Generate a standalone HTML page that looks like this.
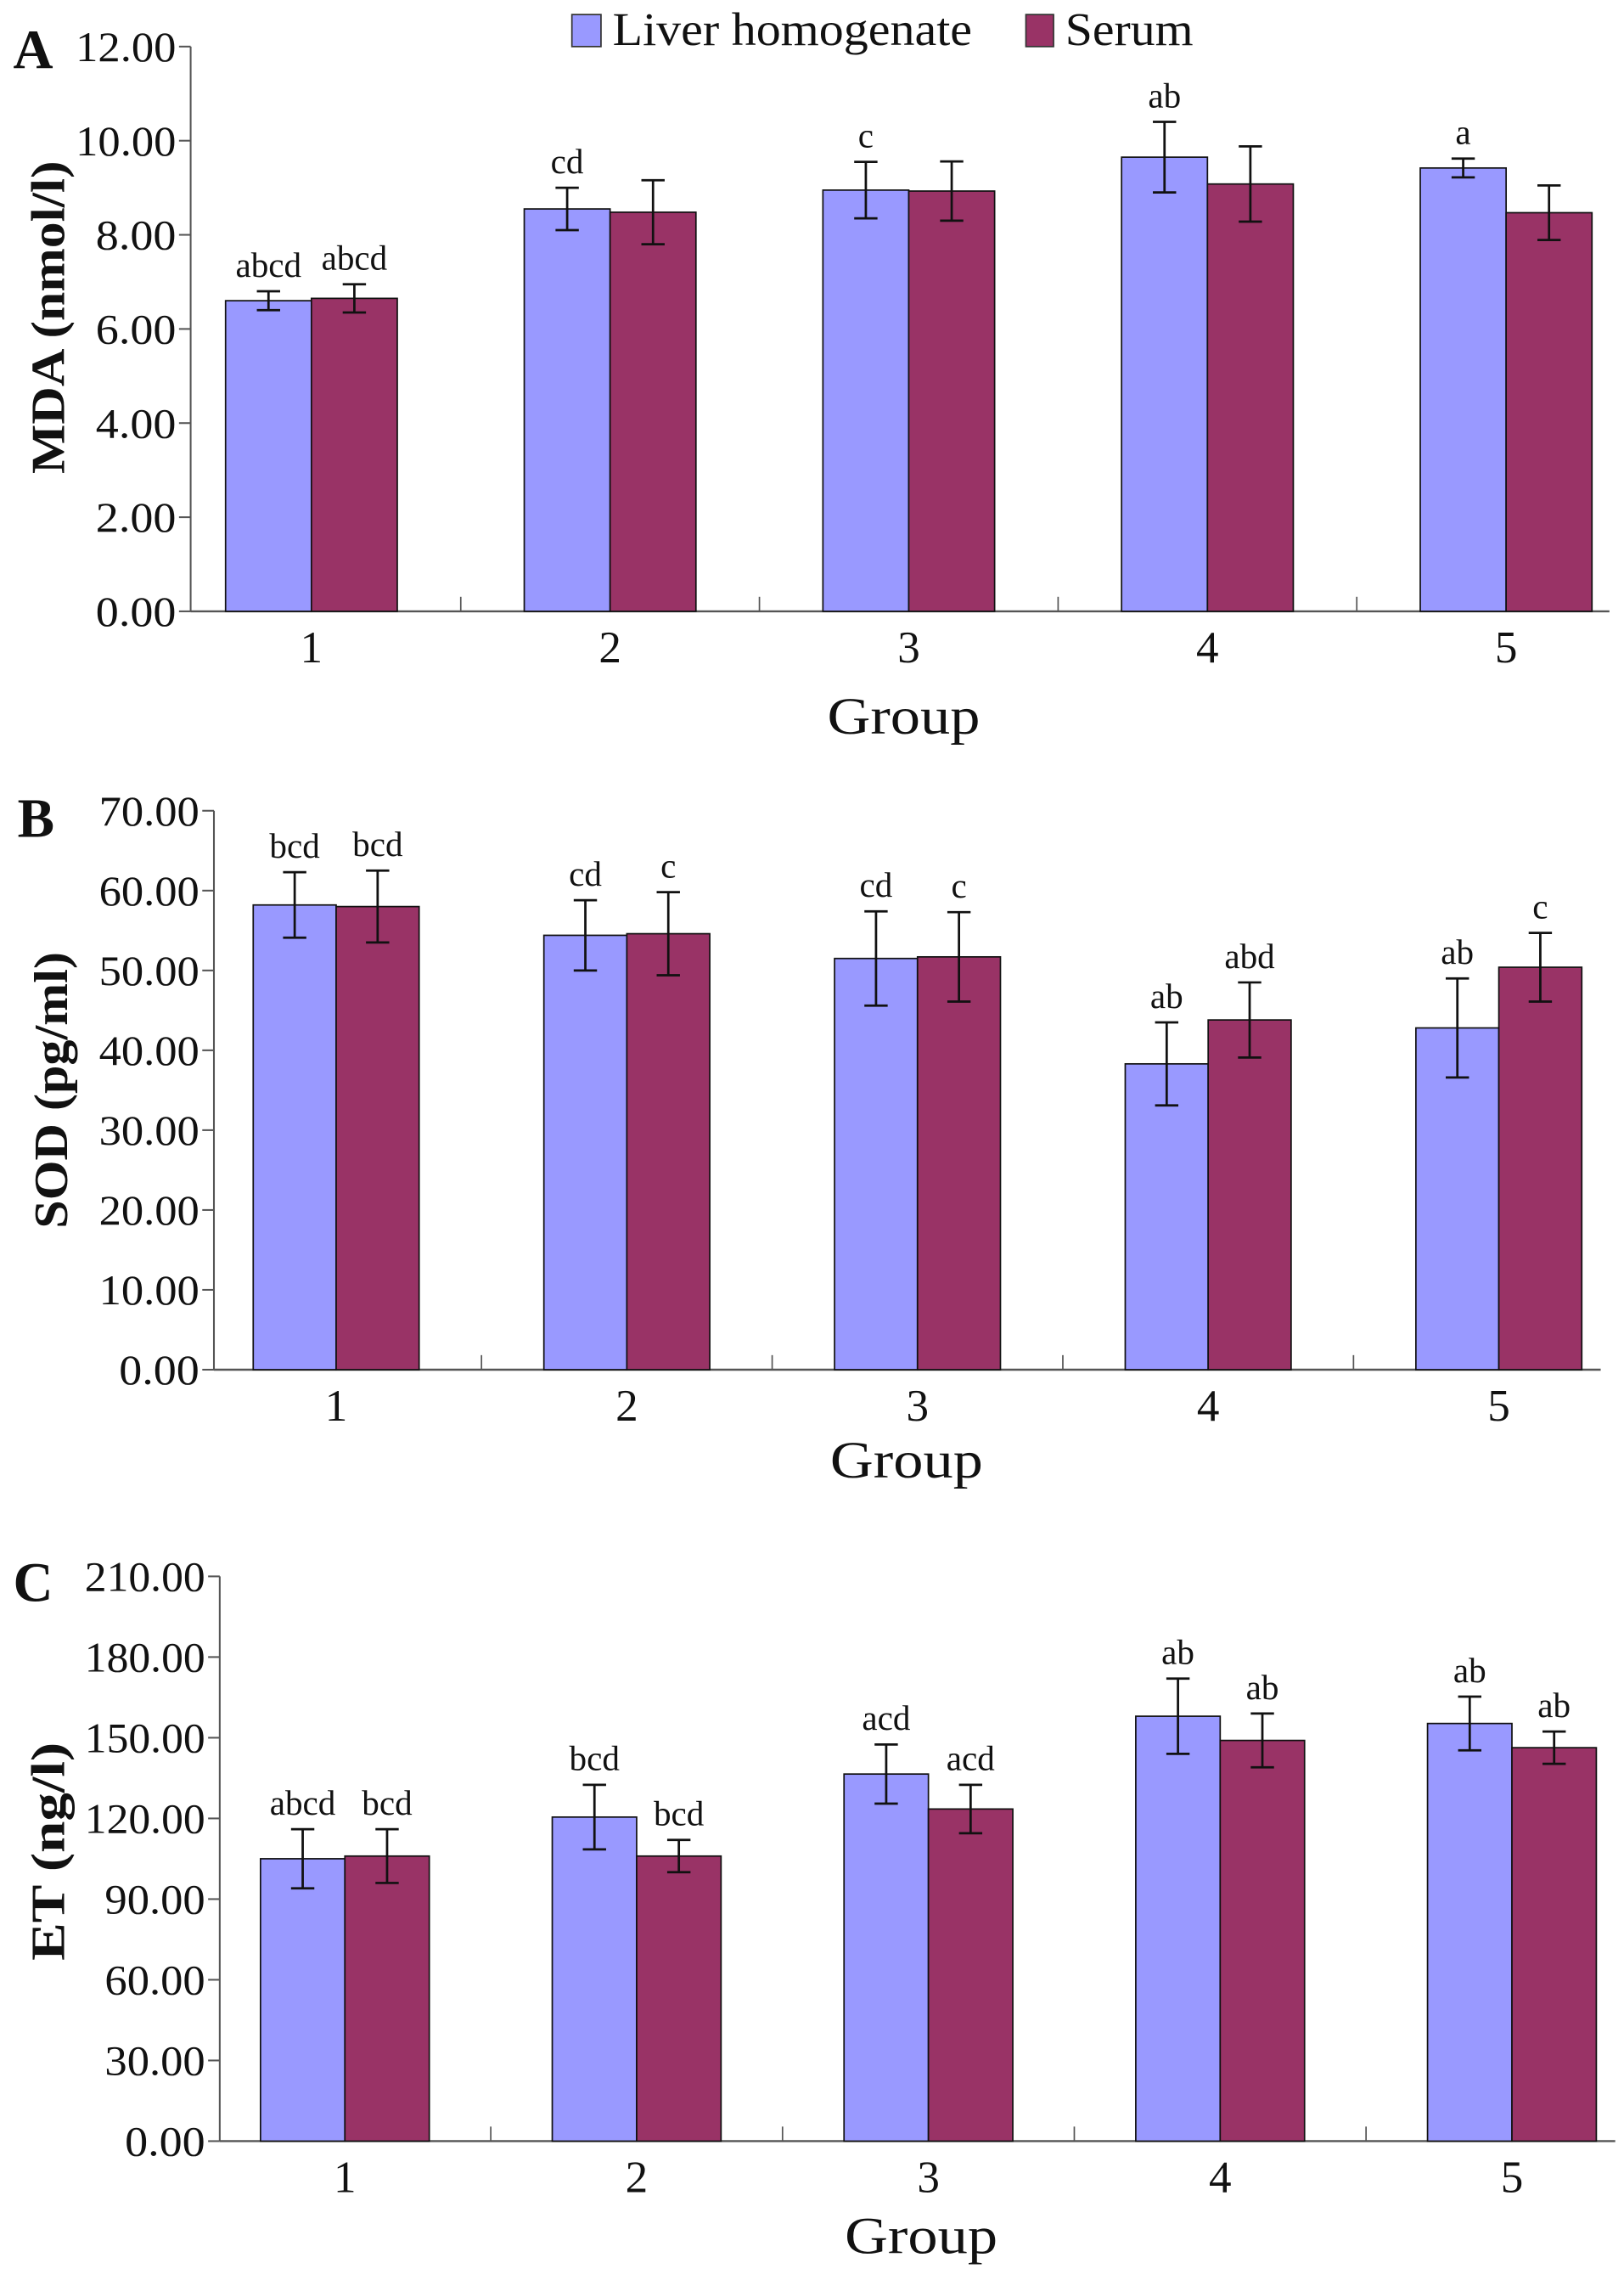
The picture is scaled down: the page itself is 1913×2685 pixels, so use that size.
<!DOCTYPE html>
<html><head><meta charset="utf-8"><style>
html,body{margin:0;padding:0;background:#fff;}
svg{display:block;}
text{font-family:"Liberation Serif",serif;fill:#111;}
</style></head><body>
<svg id="fig" xmlns="http://www.w3.org/2000/svg" width="1913" height="2685" viewBox="0 0 1116 1566.4"></svg>
<script>
// Panel A data (MDA)
const groups = ["1","2","3","4","5"];
const mdaLiver = [6.6, 8.55, 8.95, 9.65, 9.42];
const mdaLiverErr = [0.2, 0.45, 0.6, 0.75, 0.2];
const mdaSerum = [6.65, 8.48, 8.93, 9.08, 8.47];
const mdaSerumErr = [0.3, 0.68, 0.63, 0.8, 0.58];
const mdaLiverSig = ["abcd","cd","c","ab","a"];
const mdaSerumSig = ["abcd","","","",""];
const mdaTicks = ["0.00","2.00","4.00","6.00","8.00","10.00","12.00"];
// Panel B data (SOD)
const sodLiver = [58.2, 54.4, 51.5, 38.3, 42.8];
const sodLiverErr = [4.1, 4.4, 5.9, 5.2, 6.2];
const sodSerum = [58.0, 54.6, 51.7, 43.8, 50.4];
const sodSerumErr = [4.5, 5.2, 5.6, 4.7, 4.3];
const sodLiverSig = ["bcd","cd","cd","ab","ab"];
const sodSerumSig = ["bcd","c","c","abd","c"];
const sodTicks = ["0.00","10.00","20.00","30.00","40.00","50.00","60.00","70.00"];
// Panel C data (ET)
const etLiver = [105, 120.5, 136.5, 158, 155.3];
const etLiverErr = [11, 12, 11, 14, 10];
const etSerum = [106, 106, 123.5, 149, 146.3];
const etSerumErr = [10, 6, 9, 10, 6];
const etLiverSig = ["abcd","bcd","acd","ab","ab"];
const etSerumSig = ["bcd","bcd","acd","ab","ab"];
const etTicks = ["0.00","30.00","60.00","90.00","120.00","150.00","180.00","210.00"];

const NS = "http://www.w3.org/2000/svg";
const svg = document.getElementById('fig');
function mk(tag, attrs, parent, txt){
  const e = document.createElementNS(NS, tag);
  for (const k in attrs) e.setAttribute(k, attrs[k]);
  if (txt !== undefined) e.textContent = txt;
  (parent || svg).appendChild(e);
  return e;
}

function panel(cfg){
  const g = mk('g', {});
  
  
  const maxV = cfg.max;
  const y = v => cfg.y0 - (v / maxV) * (cfg.y0 - cfg.yTop);
  const cx = i => cfg.c1 + i * cfg.step;
  const bw = cfg.bw;
  const ya = mk('line', {x1:cfg.ax, x2:cfg.ax, y1:cfg.yTop, y2:cfg.y0, stroke:'#555', 'stroke-width':1.2}, g);
  
  
  const xa = mk('line', {x1:cfg.ax, x2:cfg.xEnd, y1:cfg.y0, y2:cfg.y0, stroke:'#555', 'stroke-width':1.4}, g);
  
  
  cfg.ticks.forEach((t, k) => {
    const v = parseFloat(t);
    const yy = y(v);
    const tl = mk('line', {x1:cfg.ax - 8, x2:cfg.ax, y1:yy, y2:yy, stroke:'#555', 'stroke-width':1.2}, g);
    
    
    const tx = mk('text', {x:cfg.ax - 10, y:yy + 10, 'text-anchor':'end', 'font-size':29, textLength:cfg.tickW * t.length / 5, lengthAdjust:'spacingAndGlyphs'}, g, t);
    
    
  });
  groups.forEach((lab, i) => {
    if (i > 0) {
      const sx = cx(i) - cfg.step / 2;
      const s = mk('line', {x1:sx, x2:sx, y1:cfg.y0 - 10, y2:cfg.y0, stroke:'#555', 'stroke-width':1}, g);
      
      
    }
    const t = mk('text', {x:cx(i), y:cfg.y0 + 35, 'text-anchor':'middle', 'font-size':31}, g, lab);
    
    
  });
  const series = [
    {vals:cfg.liver, err:cfg.liverErr, sig:cfg.liverSig, col:'#9999ff', off:-1, nm:'liver'},
    {vals:cfg.serum, err:cfg.serumErr, sig:cfg.serumSig, col:'#993366', off:0, nm:'serum'}
  ];
  series.forEach(s => {
    s.vals.forEach((v, i) => {
      const x0 = cx(i) + s.off * bw;
      const r = mk('rect', {x:x0, y:y(v), width:bw, height:cfg.y0 - y(v), fill:s.col, stroke:'#111', 'stroke-width':1}, g);
      
      
      const mx = x0 + bw / 2;
      const hi = y(v + s.err[i]), lo = y(v - s.err[i]);
      const eb = mk('path', {d:`M${mx},${hi}V${lo}M${mx-8},${hi}H${mx+8}M${mx-8},${lo}H${mx+8}`, stroke:'#111', 'stroke-width':1.6, fill:'none'}, g);
      
      
      if (s.sig[i]) {
        const st = mk('text', {x:mx, y:hi - 10, 'text-anchor':'middle', 'font-size':24}, g, s.sig[i]);
        
        
      }
    });
  });
  const gl = mk('text', {x:cfg.gx, y:cfg.gy, 'text-anchor':'middle', 'font-size':36, textLength:105, lengthAdjust:'spacingAndGlyphs'}, g, 'Group');
  
  
  const yt = mk('text', {x:0, y:0, 'text-anchor':'middle', 'font-size':33, 'font-weight':'bold', textLength:cfg.titleLen, lengthAdjust:'spacingAndGlyphs', transform:`translate(${cfg.tx},${cfg.ty}) rotate(-90)`}, g, cfg.title);
  
  
  const pl = mk('text', {x:cfg.lx, y:cfg.ly, 'font-size':38, 'font-weight':'bold'}, g, cfg.letter);
  
  
}

panel({name:'panel-a-mda', max:12, y0:420, yTop:32, ax:131, xEnd:1106, c1:214, step:205.25, bw:59,
  ticks:mdaTicks, tickW:69, liver:mdaLiver, liverErr:mdaLiverErr, serum:mdaSerum, serumErr:mdaSerumErr,
  liverSig:mdaLiverSig, serumSig:mdaSerumSig, gx:621, gy:504, title:'MDA (nmol/l)', titleLen:215, tx:44, ty:218,
  letter:'A', lx:9, ly:47});
panel({name:'panel-b-sod', max:70, y0:941, yTop:557, ax:147, xEnd:1100, c1:231, step:199.75, bw:57,
  ticks:sodTicks, tickW:69, liver:sodLiver, liverErr:sodLiverErr, serum:sodSerum, serumErr:sodSerumErr,
  liverSig:sodLiverSig, serumSig:sodSerumSig, gx:623, gy:1015, title:'SOD (pg/ml)', titleLen:190, tx:46, ty:749,
  letter:'B', lx:12, ly:575});
panel({name:'panel-c-et', max:210, y0:1471, yTop:1083, ax:151, xEnd:1110, c1:237, step:200.5, bw:58,
  ticks:etTicks, tickW:69, liver:etLiver, liverErr:etLiverErr, serum:etSerum, serumErr:etSerumErr,
  liverSig:etLiverSig, serumSig:etSerumSig, gx:633, gy:1548, title:'ET (ng/l)', titleLen:150, tx:44, ty:1272,
  letter:'C', lx:9, ly:1100});

const lg = mk('g', {});


const b1 = mk('rect', {x:393, y:10, width:20, height:22, fill:'#9999ff', stroke:'#333', 'stroke-width':1}, lg);


const t1 = mk('text', {x:421, y:31, 'font-size':32, textLength:247, lengthAdjust:'spacingAndGlyphs'}, lg, 'Liver homogenate');


const b2 = mk('rect', {x:705, y:10, width:19, height:22, fill:'#993366', stroke:'#333', 'stroke-width':1}, lg);


const t2 = mk('text', {x:732, y:31, 'font-size':32, textLength:88, lengthAdjust:'spacingAndGlyphs'}, lg, 'Serum');


</script>
</body></html>
